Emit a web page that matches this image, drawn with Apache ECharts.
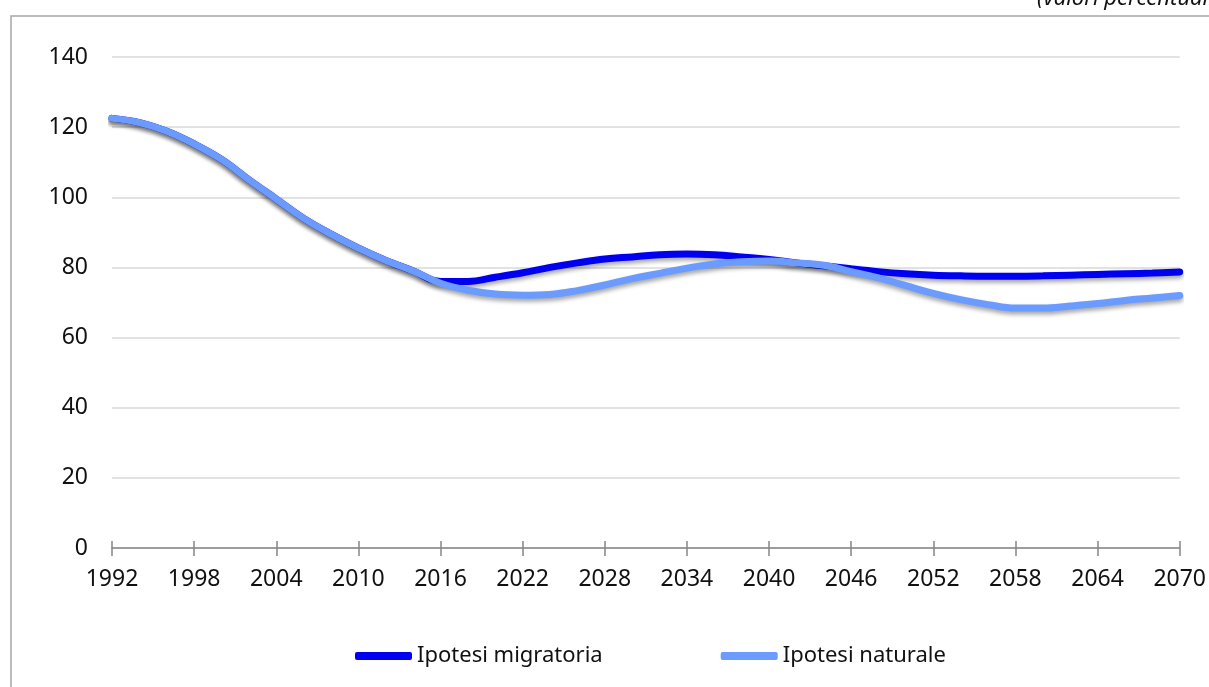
<!DOCTYPE html>
<html>
<head>
<meta charset="utf-8">
<script src="https://cdn.jsdelivr.net/npm/echarts@6/dist/echarts.min.js"></script>
<style>
  html, body { margin: 0; padding: 0; background: #fff; }
  #chart { width: 1209px; height: 687px; }
</style>
</head>
<body>
<div id="chart"></div>
<script>
// years, every two years
const years = [1992, 1994, 1996, 1998, 2000, 2002, 2004, 2006, 2008, 2010,
  2012, 2014, 2016, 2018, 2020, 2022, 2024, 2026, 2028, 2030,
  2032, 2034, 2036, 2038, 2040, 2042, 2044, 2046, 2048, 2050,
  2052, 2054, 2056, 2058, 2060, 2062, 2064, 2066, 2068, 2070];

const migratoria = [122.5, 121.3, 118.8, 115.2, 110.8, 105.0, 99.5, 94.0, 89.5, 85.5,
  82.0, 79.0, 76.0, 76.0, 77.2, 78.5, 80.0, 81.3, 82.4, 83.0,
  83.6, 83.8, 83.6, 83.0, 82.3, 81.3, 80.5, 79.6, 78.8, 78.2,
  77.8, 77.6, 77.5, 77.5, 77.6, 77.8, 78.0, 78.2, 78.4, 78.7];

const naturale = [122.5, 121.3, 118.8, 115.2, 110.8, 105.0, 99.5, 94.0, 89.5, 85.5,
  82.0, 79.0, 75.5, 73.5, 72.4, 72.1, 72.3, 73.4, 75.0, 76.8,
  78.3, 79.8, 81.0, 81.6, 81.8, 81.3, 80.6, 78.8, 77.0, 74.8,
  72.6, 70.8, 69.4, 68.4, 68.4, 69.0, 69.7, 70.6, 71.3, 72.0];

const seriesNames = ['Ipotesi migratoria', 'Ipotesi naturale'];
const yTicks = [0, 20, 40, 60, 80, 100, 120, 140];

const FONT = 'Noto Sans';
const chart = echarts.init(document.getElementById('chart'));

const pairs = (vals) => years.map((y, i) => [y, vals[i]]);
const lineShadow = {
  shadowColor: 'rgba(0,0,0,0.35)',
  shadowBlur: 4,
  shadowOffsetY: 3
};

chart.setOption({
  animation: false,
  textStyle: { fontFamily: FONT },
  grid: { left: 112, right: 27, top: 57, bottom: 139 },
  graphic: [
    {
      type: 'rect',
      shape: { x: 11, y: 16, width: 1400, height: 900 },
      style: { fill: 'none', stroke: '#a6a6a6', lineWidth: 1.5 },
      silent: true
    },
    {
      type: 'text',
      x: 1037,
      y: 10,
      style: {
        text: '(valori percentuali)',
        font: 'italic 22px ' + FONT,
        fill: '#111',
        textVerticalAlign: 'bottom'
      }
    }
  ],
  legend: {
    left: 350,
    top: 640,
    itemWidth: 57,
    itemHeight: 8,
    itemGap: 118,
    icon: 'roundRect',
    textStyle: { fontSize: 22, color: '#111', fontFamily: FONT },
    data: seriesNames
  },
  xAxis: [
    {
      type: 'value',
      min: 1992,
      max: 2070,
      interval: 6,
      splitLine: { show: false },
      axisLine: { show: true, lineStyle: { color: '#868686', width: 1.5 } },
      axisTick: { show: true, length: 8, lineStyle: { color: '#868686', width: 1.5 } },
      axisLabel: {
        fontSize: 23,
        color: '#111',
        margin: 20,
        formatter: (v) => String(v)
      }
    },
    {
      type: 'value',
      position: 'bottom',
      min: 1992,
      max: 2070,
      interval: 6,
      splitLine: { show: false },
      axisLine: { show: false },
      axisTick: { show: true, inside: true, length: 7, lineStyle: { color: '#868686', width: 1.5 } },
      axisLabel: { show: false }
    }
  ],
  yAxis: {
    type: 'value',
    min: yTicks[0],
    max: yTicks[yTicks.length - 1],
    interval: 20,
    axisLine: { show: false },
    axisTick: { show: false },
    axisLabel: { fontSize: 23, color: '#111', margin: 24 },
    splitLine: { lineStyle: { color: '#d9d9d9', width: 1.5 } }
  },
  series: [
    {
      name: seriesNames[0],
      type: 'line',
      smooth: 0.4,
      showSymbol: false,
      data: pairs(migratoria),
      color: '#0000f0',
      lineStyle: Object.assign({ width: 7, color: '#0000f0', cap: 'round' }, lineShadow),
      z: 2
    },
    {
      name: seriesNames[1],
      type: 'line',
      smooth: 0.4,
      showSymbol: false,
      data: pairs(naturale),
      color: '#6b9bff',
      lineStyle: Object.assign({ width: 7, color: '#6b9bff', cap: 'round' }, lineShadow),
      z: 3
    }
  ]
});
</script>
</body>
</html>
